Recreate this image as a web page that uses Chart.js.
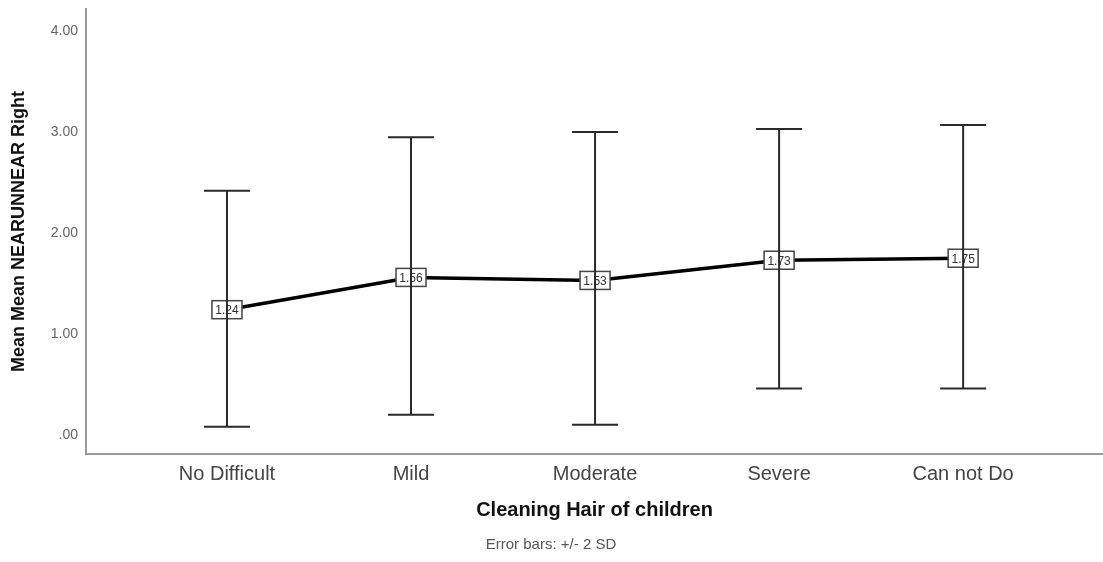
<!DOCTYPE html>
<html>
<head>
<meta charset="utf-8">
<script src="https://cdn.jsdelivr.net/npm/chart.js@4"></script>
<style>
  html, body { margin: 0; padding: 0; background: #fff; }
  #wrap { width: 1103px; height: 562px; position: relative; }
</style>
</head>
<body>
<div id="wrap"><canvas id="meanChart"></canvas></div>
<script>
const categories = ['No Difficult', 'Mild', 'Moderate', 'Severe', 'Can not Do'];
const means = [1.24, 1.56, 1.53, 1.73, 1.75];
const upper = [2.42, 2.95, 3.00, 3.03, 3.07];
const lower = [0.08, 0.20, 0.10, 0.46, 0.46];
const yTicks = [0, 1, 2, 3, 4];

// error bars + value boxes, drawn on top of the line
const errorBars = {
    id: 'errorBars',
    afterDatasetsDraw(chart) {
        const ctx = chart.ctx;
        const xs = chart.scales.x, ys = chart.scales.y;
        const pts = chart.getDatasetMeta(0).data;
        ctx.save();
        // value boxes
        ctx.font = '12px Arial, "Liberation Sans", sans-serif';
        ctx.textAlign = 'center';
        ctx.textBaseline = 'middle';
        pts.forEach((p, i) => {
            ctx.fillStyle = '#fff';
            ctx.fillRect(p.x - 15, p.y - 9, 30, 18);
            ctx.strokeStyle = '#444';
            ctx.lineWidth = 1.5;
            ctx.strokeRect(p.x - 15, p.y - 9, 30, 18);
            ctx.fillStyle = '#333';
            ctx.fillText(means[i].toFixed(2), p.x, p.y + 1);
        });
        // bars
        ctx.strokeStyle = '#2a2a2a';
        ctx.lineWidth = 2;
        categories.forEach((c, i) => {
            const x = xs.getPixelForValue(i);
            const yt = ys.getPixelForValue(upper[i]);
            const yb = ys.getPixelForValue(lower[i]);
            ctx.beginPath();
            ctx.moveTo(x, yt); ctx.lineTo(x, yb);
            ctx.moveTo(x - 23, yt); ctx.lineTo(x + 23, yt);
            ctx.moveTo(x - 23, yb); ctx.lineTo(x + 23, yb);
            ctx.stroke();
        });
        // footnote
        ctx.font = '15px Arial, "Liberation Sans", sans-serif';
        ctx.fillStyle = '#555';
        ctx.fillText('Error bars: +/- 2 SD', 551, 545);
        ctx.restore();
    }
};

const chartCtx = document.getElementById('meanChart').getContext('2d');
new Chart(chartCtx, {
    type: 'line',
    data: {
        datasets: [{
            label: 'Mean',
            data: means.map((v, i) => ({ x: i, y: v })),
            borderColor: '#000',
            borderWidth: 3.5,
            pointRadius: 0,
            fill: false,
            tension: 0
        }]
    },
    options: {
        responsive: true,
        maintainAspectRatio: false,
        animation: false,
        layout: { padding: { top: 9, right: 0, left: 0, bottom: 0 } },
        plugins: { legend: { display: false }, tooltip: { enabled: false } },
        scales: {
            x: {
                type: 'linear',
                min: -0.766,
                max: 4.76,
                afterBuildTicks: s => { s.ticks = categories.map((c, i) => ({ value: i })); },
                afterFit: s => { s.height = 108; s.paddingLeft = 0; s.paddingRight = 0; },
                grid: { display: false, drawTicks: false },
                border: { color: '#999', width: 2 },
                ticks: {
                    padding: 8,
                    color: '#444',
                    font: { family: 'Arial, "Liberation Sans", sans-serif', size: 20 },
                    callback: v => categories[v]
                },
                title: {
                    display: true,
                    text: 'Cleaning Hair of children',
                    color: '#111',
                    font: { family: 'Arial, "Liberation Sans", sans-serif', size: 20, weight: 'bold' },
                    padding: { bottom: 40 }
                }
            },
            y: {
                min: -0.19,
                max: 4.22,
                afterBuildTicks: s => { s.ticks = yTicks.map(v => ({ value: v })); },
                afterFit: s => { s.width = 86; s.paddingTop = 0; s.paddingBottom = 0; },
                grid: { display: false, drawTicks: false },
                border: { color: '#999', width: 2 },
                ticks: {
                    padding: 8,
                    color: '#666',
                    font: { family: 'Arial, "Liberation Sans", sans-serif', size: 14 },
                    callback: v => v === 0 ? '.00' : v.toFixed(2)
                },
                title: {
                    display: true,
                    text: 'Mean Mean NEARUNNEAR Right',
                    color: '#111',
                    font: { family: 'Arial, "Liberation Sans", sans-serif', size: 18, weight: 'bold' },
                    padding: { top: 8 }
                }
            }
        }
    },
    plugins: [errorBars]
});
</script>
</body>
</html>
